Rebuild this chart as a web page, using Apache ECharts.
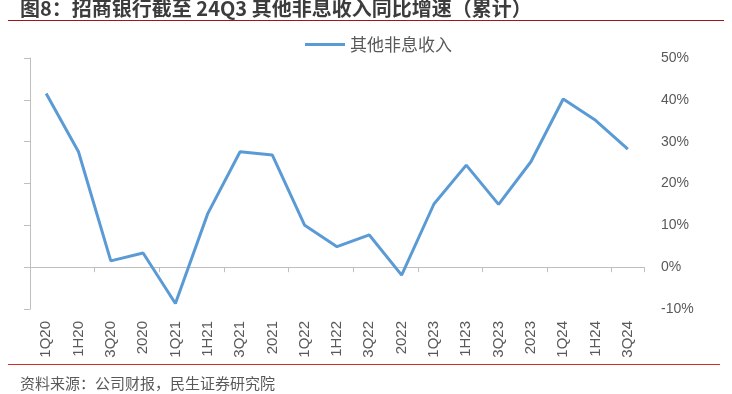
<!DOCTYPE html>
<html>
<head>
<meta charset="utf-8">
<script src="https://cdn.jsdelivr.net/npm/echarts@6/dist/echarts.min.js"></script>
<style>
  html, body { margin: 0; padding: 0; background: #fff; }
  #chart { width: 732px; height: 394px; }
</style>
</head>
<body>
<div id="chart"></div>
<script>
// 报告期
var categories = ['1Q20', '1H20', '3Q20', '2020', '1Q21', '1H21', '3Q21', '2021', '1Q22', '1H22',
  '3Q22', '2022', '1Q23', '1H23', '3Q23', '2023', '1Q24', '1H24', '3Q24']
// 其他非息收入同比增速（%，累计）
var otherNonInterest = [41.5, 27.6, 1.5, 3.4, -8.7, 12.8, 27.6, 26.8, 10.0, 4.9,
  7.7, -1.9, 15.1, 24.4, 15.0, 25.2, 40.2, 35.1, 28.2]
var yMin = -10
var yMax = 50
var yStep = 10

var cjk = '"Noto Sans CJK SC", "Liberation Sans", sans-serif'
var latin = '"Liberation Sans", "Noto Sans CJK SC", sans-serif'
var gray = '#595959'
var axisGray = '#bfbfbf'

var chart = echarts.init(document.getElementById('chart'))

chart.setOption({
  backgroundColor: '#fff',
  animation: false,
  title: {
    text: '图8：招商银行截至 24Q3 其他非息收入同比增速（累计）',
    left: 15,
    top: -7,
    textStyle: {
      fontFamily: cjk,
      fontSize: 20,
      fontWeight: 'bold',
      color: '#3c3c3c'
    }
  },
  legend: {
    data: ['其他非息收入'],
    left: 300,
    top: 31,
    icon: 'rect',
    itemWidth: 40,
    itemHeight: 3,
    itemGap: 5,
    textStyle: {
      fontFamily: cjk,
      fontSize: 17,
      color: gray,
      padding: [0, 0, 0, 0]
    }
  },
  grid: {
    left: 30,
    right: 88,
    top: 58,
    bottom: 85
  },
  xAxis: [
    {
      // axis line through 0%
      type: 'category',
      data: categories,
      boundaryGap: true,
      axisLine: { onZero: true, lineStyle: { color: axisGray, width: 1 } },
      axisTick: { show: true, length: 5, lineStyle: { color: axisGray } },
      axisLabel: { show: false },
      splitLine: { show: false }
    },
    {
      // labels along the bottom
      type: 'category',
      data: categories,
      position: 'bottom',
      boundaryGap: true,
      axisLine: { show: false, onZero: false },
      axisTick: { show: false },
      axisLabel: {
        rotate: 90,
        margin: 12,
        interval: 0,
        fontFamily: latin,
        fontSize: 15,
        color: gray
      },
      splitLine: { show: false }
    }
  ],
  yAxis: [
    {
      type: 'value',
      position: 'left',
      min: yMin,
      max: yMax,
      interval: yStep,
      axisLine: { show: true, lineStyle: { color: axisGray, width: 1 } },
      axisTick: { show: true, inside: false, length: 6, lineStyle: { color: axisGray } },
      axisLabel: { show: false },
      splitLine: { show: false }
    },
    {
      type: 'value',
      position: 'right',
      min: yMin,
      max: yMax,
      interval: yStep,
      axisLine: { show: false },
      axisTick: { show: false },
      axisLabel: {
        margin: 17,
        formatter: '{value}%',
        fontFamily: latin,
        fontSize: 14,
        color: gray
      },
      splitLine: { show: false }
    }
  ],
  series: [
    {
      name: '其他非息收入',
      type: 'line',
      xAxisIndex: 0,
      yAxisIndex: 1,
      data: otherNonInterest,
      symbol: 'none',
      color: '#5b9bd5',
      lineStyle: { width: 3, color: '#5b9bd5' }
    }
  ],
  graphic: [
    {
      type: 'line',
      shape: { x1: 8, y1: 20.5, x2: 724, y2: 20.5 },
      style: { stroke: '#a0151a', lineWidth: 1.2 }
    },
    {
      type: 'line',
      shape: { x1: 8, y1: 364.5, x2: 720, y2: 364.5 },
      style: { stroke: '#d0302a', lineWidth: 1.2 }
    },
    {
      type: 'text',
      left: 20,
      top: 376,
      style: {
        text: '资料来源：公司财报，民生证券研究院',
        font: '15px "Noto Sans CJK SC", sans-serif',
        fill: gray
      }
    }
  ]
})
</script>
</body>
</html>
